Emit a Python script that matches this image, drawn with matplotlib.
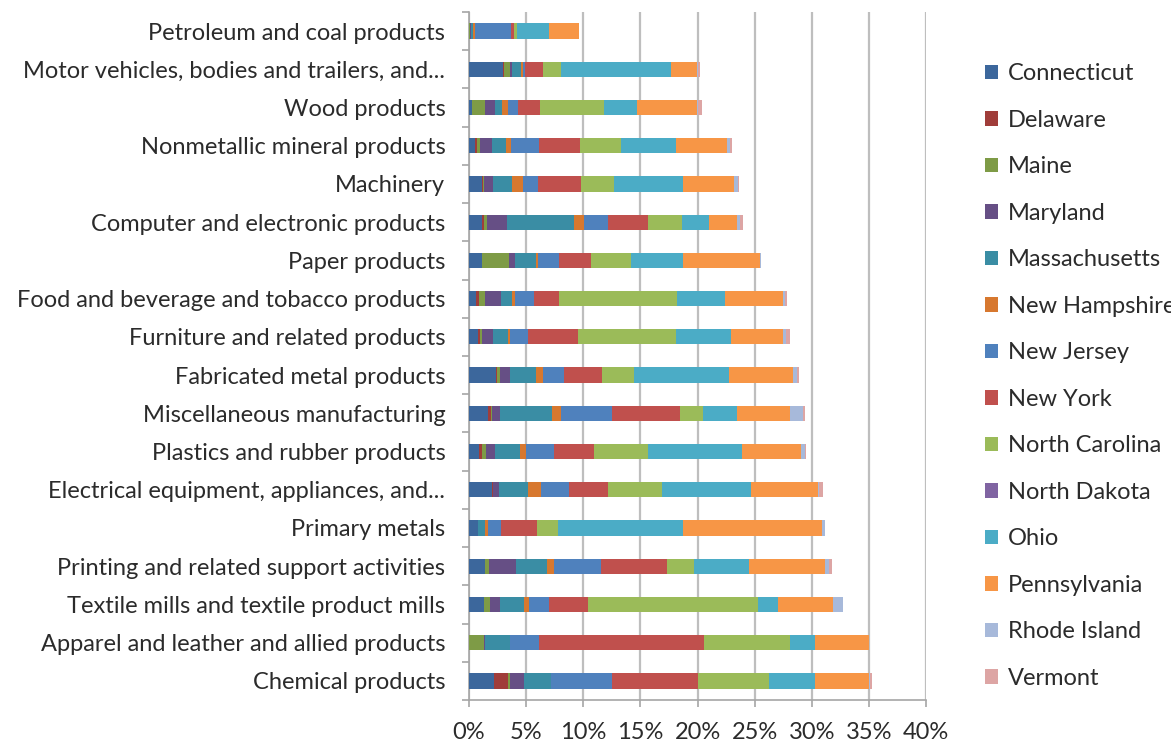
import numpy as np
import matplotlib.pyplot as plt
from matplotlib.ticker import PercentFormatter, FixedLocator

plt.rcParams['font.family'] = ['Lato', 'DejaVu Sans']

# Industries, listed top to bottom
industries = [
    'Petroleum and coal products',
    'Motor vehicles, bodies and trailers, and...',
    'Wood products',
    'Nonmetallic mineral products',
    'Machinery',
    'Computer and electronic products',
    'Paper products',
    'Food and beverage and tobacco products',
    'Furniture and related products',
    'Fabricated metal products',
    'Miscellaneous manufacturing',
    'Plastics and rubber products',
    'Electrical equipment, appliances, and...',
    'Primary metals',
    'Printing and related support activities',
    'Textile mills and textile product mills',
    'Apparel and leather and allied products',
    'Chemical products',
]

# Share of national industry output (%) by state
connecticut = [0.0, 3.0, 0.23, 0.55, 1.17, 1.11, 1.11, 0.58, 0.79, 2.33, 1.63, 0.9, 1.98, 0.76, 1.4, 1.28, 0.0, 2.16]
delaware = [0.0, 0.1, 0.0, 0.17, 0.09, 0.17, 0.0, 0.29, 0.15, 0.09, 0.26, 0.23, 0.15, 0.0, 0.0, 0.0, 0.0, 1.28]
maine = [0.12, 0.45, 1.2, 0.23, 0.09, 0.26, 2.36, 0.55, 0.18, 0.29, 0.15, 0.38, 0.0, 0.0, 0.38, 0.55, 1.28, 0.15]
maryland = [0.1, 0.2, 0.85, 1.08, 0.73, 1.81, 0.53, 1.37, 0.96, 0.85, 0.7, 0.76, 0.5, 0.0, 2.33, 0.88, 0.15, 1.2]
massachusetts = [0.15, 0.8, 0.65, 1.2, 1.72, 5.84, 1.87, 0.96, 1.34, 2.28, 4.49, 2.16, 2.54, 0.64, 2.68, 2.13, 2.16, 2.36]
new_hampshire = [0.18, 0.15, 0.5, 0.44, 0.96, 0.85, 0.17, 0.26, 0.15, 0.64, 0.85, 0.53, 1.11, 0.23, 0.64, 0.44, 0.0, 0.0]
new_jersey = [3.09, 0.2, 0.9, 2.48, 1.28, 2.13, 1.87, 1.69, 1.63, 1.84, 4.44, 2.48, 2.48, 1.17, 4.11, 1.75, 2.57, 5.34]
new_york = [0.32, 1.55, 1.85, 3.53, 3.76, 3.47, 2.77, 2.19, 4.32, 3.33, 5.92, 3.47, 3.41, 3.15, 5.81, 3.41, 14.41, 7.53]
north_carolina = [0.2, 1.63, 5.6, 3.59, 2.92, 3.0, 3.53, 10.3, 8.58, 2.77, 2.01, 4.73, 4.76, 1.81, 2.33, 14.85, 7.53, 6.27]
north_dakota = [0.0, 0.0, 0.0, 0.0, 0.0, 0.0, 0.0, 0.0, 0.0, 0.0, 0.0, 0.0, 0.0, 0.0, 0.0, 0.0, 0.0, 0.0]
ohio = [2.86, 9.6, 2.9, 4.81, 6.01, 2.36, 4.52, 4.2, 4.87, 8.32, 3.0, 8.26, 7.73, 10.97, 4.84, 1.72, 2.16, 3.97]
pennsylvania = [2.6, 2.3, 5.3, 4.52, 4.44, 2.45, 6.71, 5.08, 4.52, 5.6, 4.64, 5.16, 5.92, 12.14, 6.68, 4.81, 4.79, 4.73]
rhode_island = [0.0, 0.1, 0.05, 0.23, 0.38, 0.26, 0.09, 0.2, 0.26, 0.41, 1.11, 0.32, 0.09, 0.32, 0.35, 0.88, 0.0, 0.15]
vermont = [0.0, 0.15, 0.35, 0.2, 0.12, 0.29, 0.0, 0.2, 0.35, 0.12, 0.18, 0.12, 0.32, 0.0, 0.18, 0.0, 0.0, 0.15]

states = ['Connecticut', 'Delaware', 'Maine', 'Maryland', 'Massachusetts',
          'New Hampshire', 'New Jersey', 'New York', 'North Carolina',
          'North Dakota', 'Ohio', 'Pennsylvania', 'Rhode Island', 'Vermont']
series = [connecticut, delaware, maine, maryland, massachusetts,
          new_hampshire, new_jersey, new_york, north_carolina,
          north_dakota, ohio, pennsylvania, rhode_island, vermont]
colors = ['#3C679C', '#A03D3A', '#7E9B46', '#664F85', '#3A8DA4', '#D7782F',
          '#4F81BD', '#C0504D', '#9BBB59', '#8064A2', '#4BACC6', '#F79646',
          '#A7B9DA', '#DDA5A4']

fig = plt.figure(figsize=(11.71, 7.46), dpi=100)
ax = fig.add_axes([0.4005, 0.0617, 0.3903, 0.9223])

y = np.arange(len(industries))
left = np.zeros(len(industries))
for name, vals, col in zip(states, series, colors):
    vals = np.array(vals)
    ax.barh(y, vals, left=left, height=0.4, color=col, label=name, zorder=3)
    left += vals

ax.set_xlim(0, 40)
ax.set_ylim(len(industries) - 0.5, -0.5)
ax.set_xticks(np.arange(0, 41, 5))
ax.xaxis.set_major_formatter(PercentFormatter(xmax=100, decimals=0))
ax.set_yticks(y)
ax.set_yticklabels(industries)
ax.yaxis.set_minor_locator(FixedLocator(np.arange(-0.5, len(industries), 1)))

grid_col = '#A6A6A6'
ax.grid(axis='x', color='#BEBEBE', linewidth=1.6, zorder=0)
for side in ['top', 'right']:
    ax.spines[side].set_visible(False)
ax.spines['left'].set_color(grid_col)
ax.spines['bottom'].set_color(grid_col)
ax.spines['left'].set_linewidth(1.2)
ax.spines['bottom'].set_linewidth(1.2)

txt = '#2B2B2B'
ax.tick_params(axis='y', which='major', length=0, pad=17, labelsize=17,
               labelcolor=txt)
ax.tick_params(axis='y', which='minor', length=5, color=grid_col, width=1.2)
ax.tick_params(axis='x', length=5, color=grid_col, width=1.2, pad=11,
               labelsize=17, labelcolor=txt)

ax.legend(loc='upper left', bbox_to_anchor=(0.8413, 0.915),
          bbox_transform=fig.transFigure, frameon=False, fontsize=17,
          handlelength=0.55, handleheight=0.55, handletextpad=0.4,
          labelspacing=1.08, labelcolor=txt, borderaxespad=0, borderpad=0)

fig.savefig('out.png', dpi=100)
